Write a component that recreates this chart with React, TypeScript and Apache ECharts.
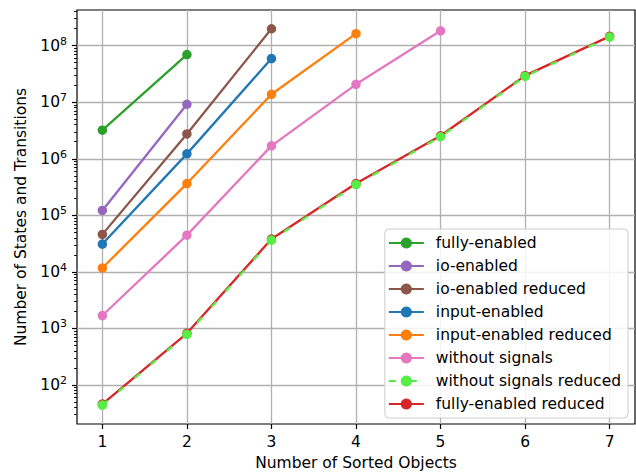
import React, { useEffect, useRef } from "react";
import * as echarts from "echarts";

const xTicks = [1, 2, 3, 4, 5, 6, 7];
const yMajorTicks = [1e2, 1e3, 1e4, 1e5, 1e6, 1e7, 1e8];

const seriesNames = [
  "fully-enabled",
  "io-enabled",
  "io-enabled reduced",
  "input-enabled",
  "input-enabled reduced",
  "without signals",
  "without signals reduced",
  "fully-enabled reduced",
];
const seriesColors = [
  "#2ca02c",
  "#9467bd",
  "#8c564b",
  "#1f77b4",
  "#ff7f0e",
  "#e377c2",
  "#55ee44",
  "#d62728",
];

const fullyEnabled = [3.2e6, 6.95e7];
const ioEnabled = [1.22e5, 9.2e6];
const ioEnabledReduced = [4.6e4, 2.75e6, 1.99e8];
const inputEnabled = [3.1e4, 1.22e6, 5.9e7];
const inputEnabledReduced = [1.17e4, 3.64e5, 1.38e7, 1.63e8];
const withoutSignals = [1.69e3, 4.46e4, 1.69e6, 2.07e7, 1.83e8];
const withoutSignalsReduced = [44, 785, 36500, 350000, 2.45e6, 2.85e7, 1.42e8];
const fullyEnabledReduced = [46, 820, 38000, 365000, 2.55e6, 2.95e7, 1.46e8];

const seriesValues = [
  fullyEnabled,
  ioEnabled,
  ioEnabledReduced,
  inputEnabled,
  inputEnabledReduced,
  withoutSignals,
  withoutSignalsReduced,
  fullyEnabledReduced,
];

const FONT = "DejaVu Sans";
const FS = 15.5;

function minorTicks(): number[] {
  const out: number[] = [];
  for (let e = 1; e <= 8; e++) {
    for (let k = 2; k <= 9; k++) {
      const v = k * Math.pow(10, e);
      if (v >= 20.4 && v <= 4.27e8) out.push(v);
    }
  }
  return out;
}

export default function App() {
  const ref = useRef<HTMLDivElement>(null);
  useEffect(() => {
    if (!ref.current) return;
    const chart = echarts.init(ref.current, undefined, { renderer: "svg" });
    const series: any[] = seriesNames.map((name, i) => ({
      name,
      type: "line",
      data: seriesValues[i].map((v, j) => [xTicks[j], v]),
      yAxisIndex: 0,
      symbol: "circle",
      symbolSize: 9.5,
      showSymbol: true,
      color: seriesColors[i],
      lineStyle: {
        width: 2.3,
        color: seriesColors[i],
        type: i === 6 ? [7, 14] : "solid",
      },
      itemStyle: { color: seriesColors[i] },
      z: i === 6 ? 20 : 2 + i,
    }));
    chart.setOption({
      animation: false,
      backgroundColor: "#ffffff",
      textStyle: { fontFamily: FONT },
      grid: {
        left: 77,
        right: 1,
        top: 10,
        bottom: 49,
        show: true,
        borderColor: "#000",
        borderWidth: 1.2,
        backgroundColor: "transparent",
      },
      legend: {
        orient: "vertical",
        right: 8,
        bottom: 58,
        data: seriesNames,
        backgroundColor: "rgba(255,255,255,0.85)",
        borderColor: "#cccccc",
        borderWidth: 1,
        borderRadius: 4,
        padding: [6, 7, 6, 3],
        itemWidth: 35,
        itemHeight: 14,
        itemGap: 7,
        textStyle: { fontFamily: FONT, fontSize: FS, lineHeight: 14, color: "#000", padding: [0, 0, 0, 7] },
      },
      xAxis: {
        type: "value",
        min: 0.7,
        max: 7.3,
        name: "Number of Sorted Objects",
        nameLocation: "middle",
        nameGap: 31,
        nameTextStyle: { fontFamily: FONT, fontSize: FS, color: "#000" },
        axisLine: { show: false },
        axisTick: { show: true, length: 5, customValues: xTicks, lineStyle: { color: "#000", width: 1.2 } },
        axisLabel: { customValues: xTicks, fontFamily: FONT, fontSize: FS, color: "#000", margin: 10 },
        splitLine: { show: true, lineStyle: { color: "#b0b0b0", width: 1.3 } },
      },
      yAxis: [
        {
          type: "log",
          logBase: 10,
          min: 20.4,
          max: 4.27e8,
          name: "Number of States and Transitions",
          nameLocation: "middle",
          nameGap: 47,
          nameRotate: 90,
          nameTextStyle: { fontFamily: FONT, fontSize: FS, color: "#000" },
          axisLine: { show: false },
          axisTick: { show: true, length: 5, customValues: yMajorTicks, lineStyle: { color: "#000", width: 1.2 } },
          axisLabel: {
            customValues: yMajorTicks,
            fontFamily: FONT,
            fontSize: FS,
            color: "#000",
            margin: 10,
            formatter: (v: number) => "10{s|" + Math.round(Math.log10(v)) + "}",
            rich: {
              s: { fontFamily: FONT, fontSize: 11, color: "#000", verticalAlign: "top", padding: [0, 0, 9, 0] },
            },
          },
          splitLine: { show: true, lineStyle: { color: "#b0b0b0", width: 1.3 } },
        },
        {
          type: "log",
          logBase: 10,
          min: 20.4,
          max: 4.27e8,
          position: "left",
          axisLine: { show: false },
          axisTick: { show: true, length: 3, customValues: minorTicks(), lineStyle: { color: "#000", width: 0.9 } },
          axisLabel: { show: false },
          splitLine: { show: false },
        },
      ],
      series,
    });
    return () => chart.dispose();
  }, []);
  return (
    <div
      ref={ref}
      style={{ position: "fixed", left: 0, top: 0, width: 636, height: 476 }}
    />
  );
}
